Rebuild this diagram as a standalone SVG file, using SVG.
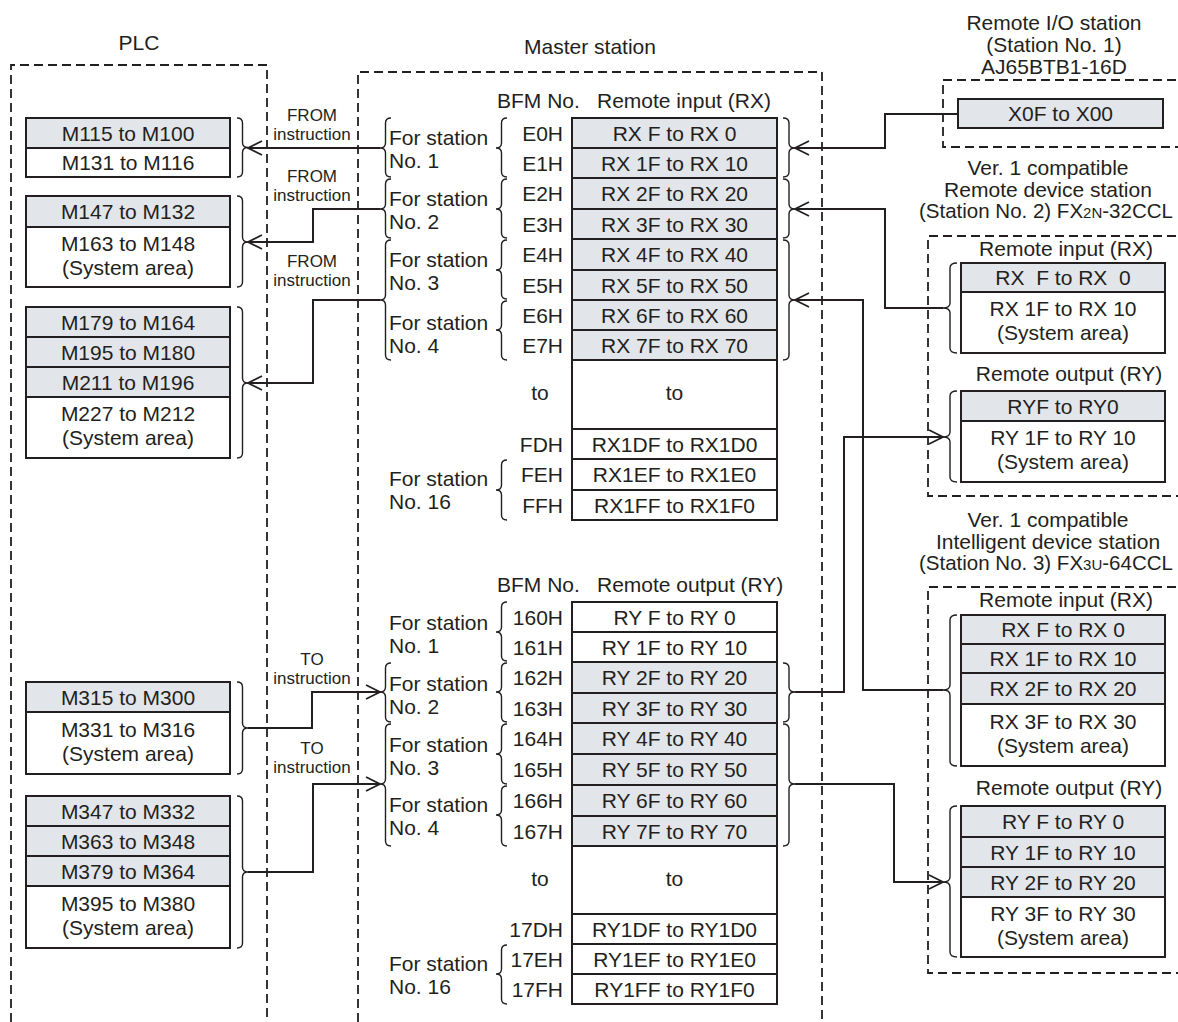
<svg xmlns="http://www.w3.org/2000/svg" width="1178" height="1022" viewBox="0 0 1178 1022">
<style>
text{font-family:"Liberation Sans",Arial,sans-serif;font-size:21px;fill:#231f20}
.c{text-anchor:middle}
.e{text-anchor:end}
.s{font-size:17px}
.sm{font-size:15px}
.t3{font-size:20.5px}
.g{fill:#e2e5ea;stroke:#231f20;stroke-width:2}
.w{fill:#fff;stroke:#231f20;stroke-width:2}
.d{fill:none;stroke:#231f20;stroke-width:1.8;stroke-dasharray:9 5}
.b{fill:none;stroke:#231f20;stroke-width:1.4}
.a{fill:none;stroke:#231f20;stroke-width:2;marker-end:url(#arr)}
</style>
<defs>
<marker id="arr" markerWidth="16" markerHeight="16" refX="15" refY="8" orient="auto" markerUnits="userSpaceOnUse" viewBox="0 0 16 16"><path d="M1,1 L15,8 L1,15" fill="none" stroke="#231f20" stroke-width="1.8"/></marker>
</defs>
<rect width="1178" height="1022" fill="#fff"/>

<g id="plc">
<path class="d" d="M11,1022 V65 H267 V1022"/>
<text class="c" x="139" y="50">PLC</text>
</g>
<g id="master">
<path class="d" d="M358,1022 V72 H822 V1022"/>
<text class="c" x="590" y="54">Master station</text>
</g>

<g id="plc-m100">
<rect class="g" x="26" y="118" width="204" height="30"/><text class="c" x="128" y="140.5">M115 to M100</text>
<rect class="w" x="26" y="148" width="204" height="29"/><text class="c" x="128" y="170">M131 to M116</text>
<path class="b" d="M237,118 Q242.5,118 242.5,123 V142.5 Q242.5,147.5 248,147.5 Q242.5,147.5 242.5,152.5 V172 Q242.5,177 237,177"/>
</g>
<g id="plc-m132">
<rect class="g" x="26" y="196" width="204" height="31"/><text class="c" x="128" y="219">M147 to M132</text>
<rect class="w" x="26" y="227" width="204" height="60"/><text class="c" x="128" y="250.5">M163 to M148</text><text class="c" x="128" y="274.5">(System area)</text>
<path class="b" d="M237,196 Q242.5,196 242.5,201 V237 Q242.5,242 248,242 Q242.5,242 242.5,247 V282 Q242.5,287 237,287"/>
</g>
<g id="plc-m164">
<rect class="g" x="26" y="307" width="204" height="30"/><text class="c" x="128" y="329.5">M179 to M164</text>
<rect class="g" x="26" y="337" width="204" height="30"/><text class="c" x="128" y="359.5">M195 to M180</text>
<rect class="g" x="26" y="367" width="204" height="30"/><text class="c" x="128" y="389.5">M211 to M196</text>
<rect class="w" x="26" y="397" width="204" height="61"/><text class="c" x="128" y="421">M227 to M212</text><text class="c" x="128" y="445">(System area)</text>
<path class="b" d="M237,307 Q242.5,307 242.5,312 V378 Q242.5,383 248,383 Q242.5,383 242.5,388 V453 Q242.5,458 237,458"/>
</g>
<g id="plc-m300">
<rect class="g" x="26" y="682" width="204" height="30"/><text class="c" x="128" y="704.5">M315 to M300</text>
<rect class="w" x="26" y="712" width="204" height="62"/><text class="c" x="128" y="736.5">M331 to M316</text><text class="c" x="128" y="760.5">(System area)</text>
<path class="b" d="M237,682 Q242.5,682 242.5,687 V723 Q242.5,728 248,728 Q242.5,728 242.5,733 V769 Q242.5,774 237,774"/>
</g>
<g id="plc-m332">
<rect class="g" x="26" y="796" width="204" height="30"/><text class="c" x="128" y="818.5">M347 to M332</text>
<rect class="g" x="26" y="826" width="204" height="30"/><text class="c" x="128" y="848.5">M363 to M348</text>
<rect class="g" x="26" y="856" width="204" height="30"/><text class="c" x="128" y="878.5">M379 to M364</text>
<rect class="w" x="26" y="886" width="204" height="62"/><text class="c" x="128" y="910.5">M395 to M380</text><text class="c" x="128" y="934.5">(System area)</text>
<path class="b" d="M237,796 Q242.5,796 242.5,801 V867 Q242.5,872 248,872 Q242.5,872 242.5,877 V943 Q242.5,948 237,948"/>
</g>

<g id="master-rx">
<text x="497" y="108">BFM No.</text><text x="597" y="108">Remote input (RX)</text>
<rect class="g" x="572" y="118" width="205" height="30"/><text class="c" x="674.5" y="140.5">RX F to RX 0</text><text class="e" x="563" y="140.5">E0H</text>
<rect class="g" x="572" y="148" width="205" height="30"/><text class="c" x="674.5" y="170.5">RX 1F to RX 10</text><text class="e" x="563" y="170.5">E1H</text>
<rect class="g" x="572" y="178" width="205" height="31"/><text class="c" x="674.5" y="201">RX 2F to RX 20</text><text class="e" x="563" y="201">E2H</text>
<rect class="g" x="572" y="209" width="205" height="30"/><text class="c" x="674.5" y="231.5">RX 3F to RX 30</text><text class="e" x="563" y="231.5">E3H</text>
<rect class="g" x="572" y="239" width="205" height="31"/><text class="c" x="674.5" y="262">RX 4F to RX 40</text><text class="e" x="563" y="262">E4H</text>
<rect class="g" x="572" y="270" width="205" height="30"/><text class="c" x="674.5" y="292.5">RX 5F to RX 50</text><text class="e" x="563" y="292.5">E5H</text>
<rect class="g" x="572" y="300" width="205" height="30"/><text class="c" x="674.5" y="322.5">RX 6F to RX 60</text><text class="e" x="563" y="322.5">E6H</text>
<rect class="g" x="572" y="330" width="205" height="30"/><text class="c" x="674.5" y="352.5">RX 7F to RX 70</text><text class="e" x="563" y="352.5">E7H</text>
<rect class="w" x="572" y="360" width="205" height="69"/><text class="c" x="674.5" y="400">to</text><text class="c" x="540" y="400">to</text>
<rect class="w" x="572" y="429" width="205" height="30"/><text class="c" x="674.5" y="451.5">RX1DF to RX1D0</text><text class="e" x="563" y="451.5">FDH</text>
<rect class="w" x="572" y="459" width="205" height="31"/><text class="c" x="674.5" y="482">RX1EF to RX1E0</text><text class="e" x="563" y="482">FEH</text>
<rect class="w" x="572" y="490" width="205" height="30"/><text class="c" x="674.5" y="512.5">RX1FF to RX1F0</text><text class="e" x="563" y="512.5">FFH</text>
<text x="389" y="145">For station</text><text x="389" y="168">No. 1</text>
<text x="389" y="206">For station</text><text x="389" y="229">No. 2</text>
<text x="389" y="267">For station</text><text x="389" y="290">No. 3</text>
<text x="389" y="330">For station</text><text x="389" y="353">No. 4</text>
<text x="389" y="486">For station</text><text x="389" y="509">No. 16</text>
<path class="b" d="M391,118 Q385.5,118 385.5,123 V143 Q385.5,148 380,148 Q385.5,148 385.5,153 V172 Q385.5,177 391,177"/>
<path class="b" d="M391,179 Q385.5,179 385.5,184 V204 Q385.5,209 380,209 Q385.5,209 385.5,214 V233 Q385.5,238 391,238"/>
<path class="b" d="M391,240 Q385.5,240 385.5,245 V295 Q385.5,300 380,300 Q385.5,300 385.5,305 V355 Q385.5,360 391,360"/>
<path class="b" d="M507,118 Q501.5,118 501.5,123 V143 Q501.5,148 496,148 Q501.5,148 501.5,153 V172 Q501.5,177 507,177"/>
<path class="b" d="M507,179 Q501.5,179 501.5,184 V204 Q501.5,209 496,209 Q501.5,209 501.5,214 V233 Q501.5,238 507,238"/>
<path class="b" d="M507,240 Q501.5,240 501.5,245 V265 Q501.5,270 496,270 Q501.5,270 501.5,275 V294 Q501.5,299 507,299"/>
<path class="b" d="M507,301 Q501.5,301 501.5,306 V325 Q501.5,330 496,330 Q501.5,330 501.5,335 V355 Q501.5,360 507,360"/>
<path class="b" d="M507,460 Q501.5,460 501.5,465 V485 Q501.5,490 496,490 Q501.5,490 501.5,495 V515 Q501.5,520 507,520"/>
<path class="b" d="M783,118 Q789,118 789,123 V143 Q789,148 795,148 Q789,148 789,153 V172 Q789,177 783,177"/>
<path class="b" d="M783,179 Q789,179 789,184 V204 Q789,209 795,209 Q789,209 789,214 V233 Q789,238 783,238"/>
<path class="b" d="M783,240 Q789,240 789,245 V295 Q789,300 795,300 Q789,300 789,305 V355 Q789,360 783,360"/>
</g>

<g id="master-ry">
<text x="497" y="592">BFM No.</text><text x="597" y="592">Remote output (RY)</text>
<rect class="w" x="572" y="602" width="205" height="30"/><text class="c" x="674.5" y="624.5">RY F to RY 0</text><text class="e" x="563" y="624.5">160H</text>
<rect class="w" x="572" y="632" width="205" height="30"/><text class="c" x="674.5" y="654.5">RY 1F to RY 10</text><text class="e" x="563" y="654.5">161H</text>
<rect class="g" x="572" y="662" width="205" height="31"/><text class="c" x="674.5" y="685">RY 2F to RY 20</text><text class="e" x="563" y="685">162H</text>
<rect class="g" x="572" y="693" width="205" height="30"/><text class="c" x="674.5" y="715.5">RY 3F to RY 30</text><text class="e" x="563" y="715.5">163H</text>
<rect class="g" x="572" y="723" width="205" height="31"/><text class="c" x="674.5" y="746">RY 4F to RY 40</text><text class="e" x="563" y="746">164H</text>
<rect class="g" x="572" y="754" width="205" height="31"/><text class="c" x="674.5" y="777">RY 5F to RY 50</text><text class="e" x="563" y="777">165H</text>
<rect class="g" x="572" y="785" width="205" height="31"/><text class="c" x="674.5" y="808">RY 6F to RY 60</text><text class="e" x="563" y="808">166H</text>
<rect class="g" x="572" y="816" width="205" height="30"/><text class="c" x="674.5" y="838.5">RY 7F to RY 70</text><text class="e" x="563" y="838.5">167H</text>
<rect class="w" x="572" y="846" width="205" height="68"/><text class="c" x="674.5" y="886">to</text><text class="c" x="540" y="886">to</text>
<rect class="w" x="572" y="914" width="205" height="30"/><text class="c" x="674.5" y="936.5">RY1DF to RY1D0</text><text class="e" x="563" y="936.5">17DH</text>
<rect class="w" x="572" y="944" width="205" height="30"/><text class="c" x="674.5" y="966.5">RY1EF to RY1E0</text><text class="e" x="563" y="966.5">17EH</text>
<rect class="w" x="572" y="974" width="205" height="30"/><text class="c" x="674.5" y="996.5">RY1FF to RY1F0</text><text class="e" x="563" y="996.5">17FH</text>
<text x="389" y="630">For station</text><text x="389" y="653">No. 1</text>
<text x="389" y="691">For station</text><text x="389" y="714">No. 2</text>
<text x="389" y="752">For station</text><text x="389" y="775">No. 3</text>
<text x="389" y="812">For station</text><text x="389" y="835">No. 4</text>
<text x="389" y="971">For station</text><text x="389" y="994">No. 16</text>
<path class="b" d="M391,663 Q385.5,663 385.5,668 V687 Q385.5,692 380,692 Q385.5,692 385.5,697 V717 Q385.5,722 391,722"/>
<path class="b" d="M391,724 Q385.5,724 385.5,729 V779 Q385.5,784 380,784 Q385.5,784 385.5,789 V841 Q385.5,846 391,846"/>
<path class="b" d="M507,602 Q501.5,602 501.5,607 V627 Q501.5,632 496,632 Q501.5,632 501.5,637 V656 Q501.5,661 507,661"/>
<path class="b" d="M507,663 Q501.5,663 501.5,668 V687 Q501.5,692 496,692 Q501.5,692 501.5,697 V717 Q501.5,722 507,722"/>
<path class="b" d="M507,724 Q501.5,724 501.5,729 V749 Q501.5,754 496,754 Q501.5,754 501.5,759 V779 Q501.5,784 507,784"/>
<path class="b" d="M507,786 Q501.5,786 501.5,791 V810 Q501.5,815 496,815 Q501.5,815 501.5,820 V841 Q501.5,846 507,846"/>
<path class="b" d="M507,945 Q501.5,945 501.5,950 V969 Q501.5,974 496,974 Q501.5,974 501.5,979 V999 Q501.5,1004 507,1004"/>
<path class="b" d="M783,663 Q789,663 789,668 V687 Q789,692 795,692 Q789,692 789,697 V717 Q789,722 783,722"/>
<path class="b" d="M783,724 Q789,724 789,729 V779 Q789,784 795,784 Q789,784 789,789 V841 Q789,846 783,846"/>
</g>

<g id="station1">
<text class="c" x="1054" y="30">Remote I/O station</text>
<text class="c" x="1054" y="52">(Station No. 1)</text>
<text class="c" x="1054" y="74">AJ65BTB1-16D</text>
<path class="d" d="M1190,80 H943 V147 H1190"/>
<rect class="g" x="958" y="99" width="205" height="29"/><text class="c" x="1060.5" y="121">X0F to X00</text>
</g>

<g id="station2">
<text class="c" x="1048" y="175">Ver. 1 compatible</text>
<text class="c" x="1048" y="197">Remote device station</text>
<text class="t3" x="919" y="218">(Station No. 2) FX<tspan class="sm">2N</tspan>-32CCL</text>
<path class="d" d="M1190,236 H928 V496 H1190"/>
<text class="c" x="1066" y="256">Remote input (RX)</text>
<rect class="g" x="961" y="263" width="204" height="29"/><text class="c" x="1063" y="285" xml:space="preserve">RX  F to RX  0</text>
<rect class="w" x="961" y="292" width="204" height="61"/><text class="c" x="1063" y="316">RX 1F to RX 10</text><text class="c" x="1063" y="340">(System area)</text>
<path class="b" d="M957,263 Q950,263 950,268 V303 Q950,308 943,308 Q950,308 950,313 V348 Q950,353 957,353"/>
<text class="c" x="1069" y="381">Remote output (RY)</text>
<rect class="g" x="961" y="391" width="204" height="30"/><text class="c" x="1063" y="413.5">RYF to RY0</text>
<rect class="w" x="961" y="421" width="204" height="61"/><text class="c" x="1063" y="445">RY 1F to RY 10</text><text class="c" x="1063" y="469">(System area)</text>
<path class="b" d="M957,391 Q950,391 950,396 V432 Q950,437 943,437 Q950,437 950,442 V477 Q950,482 957,482"/>
</g>

<g id="station3">
<text class="c" x="1048" y="527">Ver. 1 compatible</text>
<text class="c" x="1048" y="549">Intelligent device station</text>
<text class="t3" x="919" y="570">(Station No. 3) FX<tspan class="sm">3U</tspan>-64CCL</text>
<path class="d" d="M1190,587 H928 V973 H1190"/>
<text class="c" x="1066" y="607">Remote input (RX)</text>
<rect class="g" x="961" y="615" width="204" height="29"/><text class="c" x="1063" y="637">RX F to RX 0</text>
<rect class="g" x="961" y="644" width="204" height="29"/><text class="c" x="1063" y="666">RX 1F to RX 10</text>
<rect class="g" x="961" y="673" width="204" height="31"/><text class="c" x="1063" y="696">RX 2F to RX 20</text>
<rect class="w" x="961" y="704" width="204" height="62"/><text class="c" x="1063" y="728.5">RX 3F to RX 30</text><text class="c" x="1063" y="752.5">(System area)</text>
<path class="b" d="M957,615 Q950,615 950,620 V685 Q950,690 943,690 Q950,690 950,695 V761 Q950,766 957,766"/>
<text class="c" x="1069" y="795">Remote output (RY)</text>
<rect class="g" x="961" y="806" width="204" height="31"/><text class="c" x="1063" y="829">RY F to RY 0</text>
<rect class="g" x="961" y="837" width="204" height="30"/><text class="c" x="1063" y="859.5">RY 1F to RY 10</text>
<rect class="g" x="961" y="867" width="204" height="30"/><text class="c" x="1063" y="889.5">RY 2F to RY 20</text>
<rect class="w" x="961" y="897" width="204" height="60"/><text class="c" x="1063" y="920.5">RY 3F to RY 30</text><text class="c" x="1063" y="944.5">(System area)</text>
<path class="b" d="M957,806 Q950,806 950,811 V877 Q950,882 943,882 Q950,882 950,887 V952 Q950,957 957,957"/>
</g>

<g id="connectors">
<path class="a" d="M380,148 H248"/>
<path class="a" d="M380,209 H313 V242 H248"/>
<path class="a" d="M380,300 H313 V383 H248"/>
<path class="a" d="M248,728 H312 V692 H380"/>
<path class="a" d="M248,872 H313 V784 H380"/>
<path class="a" d="M958,114 H885 V148 H795"/>
<path class="a" d="M943,308 H885 V209 H795"/>
<path class="a" d="M943,690 H863 V300 H795"/>
<path class="a" d="M795,692 H844 V437 H943"/>
<path class="a" d="M795,784 H894 V882 H943"/>
<text class="c s" x="312" y="121">FROM</text><text class="c s" x="312" y="140">instruction</text>
<text class="c s" x="312" y="182">FROM</text><text class="c s" x="312" y="201">instruction</text>
<text class="c s" x="312" y="267">FROM</text><text class="c s" x="312" y="286">instruction</text>
<text class="c s" x="312" y="665">TO</text><text class="c s" x="312" y="684">instruction</text>
<text class="c s" x="312" y="754">TO</text><text class="c s" x="312" y="773">instruction</text>
</g>
</svg>
